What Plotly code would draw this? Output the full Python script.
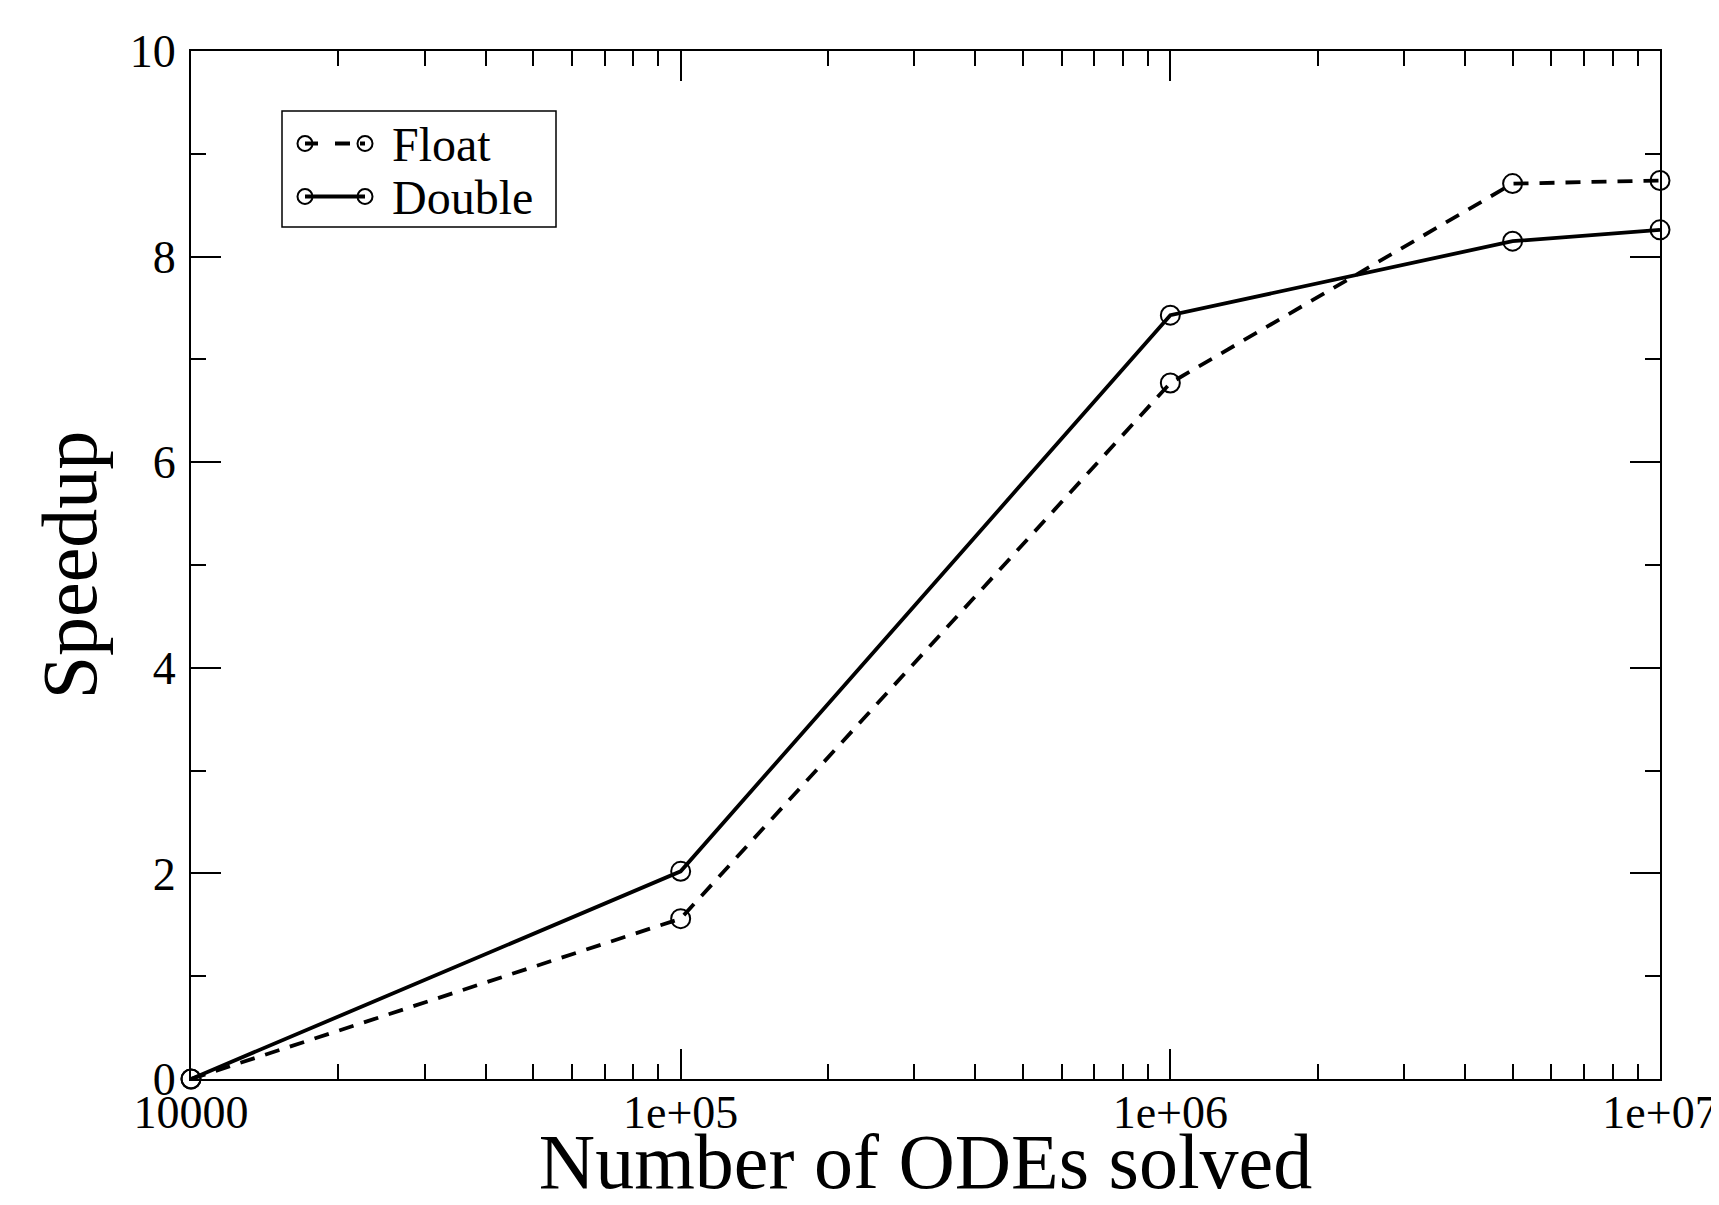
import plotly.graph_objects as go

# Data
n_odes = [1e4, 1e5, 1e6, 5e6, 1e7]
speedup_float = [0.0, 1.56, 6.77, 8.71, 8.74]
speedup_double = [0.0, 2.02, 7.43, 8.15, 8.26]
series_names = ["Float", "Double"]

x_tickvals = [1e4, 1e5, 1e6, 1e7]
x_ticktext = ["10000", "1e+05", "1e+06", "1e+07"]
y_tickvals = [0, 2, 4, 6, 8, 10]

FONT = "Liberation Serif"
DASH = "15px,11px"

fig = go.Figure()
fig.add_trace(go.Scatter(
    x=n_odes, y=speedup_float, name=series_names[0], mode="lines+markers",
    line=dict(color="black", width=3.8, dash=DASH),
    marker=dict(symbol="circle-open", size=19, color="black", line=dict(width=2, color="black")),
    cliponaxis=False, showlegend=False,
))
fig.add_trace(go.Scatter(
    x=n_odes, y=speedup_double, name=series_names[1], mode="lines+markers",
    line=dict(color="black", width=3.8),
    marker=dict(symbol="circle-open", size=19, color="black", line=dict(width=2, color="black")),
    cliponaxis=False, showlegend=False,
))

# Plot area geometry (window pixels) used to place the legend box
PL, PR, PT, PB = 191, 1660, 51, 1079
PW, PH = PR - PL, PB - PT


def dx(px):
    return (px - PL) / PW


def dy(py):
    return (PB - py) / PH


shapes = []
annotations = []
# legend frame
shapes.append(dict(type="rect", xref="x domain", yref="y domain",
                   x0=dx(282), x1=dx(556), y0=dy(227), y1=dy(111),
                   line=dict(color="black", width=1.5), fillcolor="white", layer="above"))
legend_rows = [(series_names[0], 143.5, "13px,17px,15px,10px"), (series_names[1], 196.5, "solid")]
r = 7.5
for name, ypx, dash in legend_rows:
    shapes.append(dict(type="line", xref="x domain", yref="y domain",
                       x0=dx(305), x1=dx(365), y0=dy(ypx), y1=dy(ypx),
                       line=dict(color="black", width=3.8, dash=dash), layer="above"))
    for cx in (305, 365):
        shapes.append(dict(type="circle", xref="x domain", yref="y domain",
                           x0=dx(cx - r), x1=dx(cx + r), y0=dy(ypx + r), y1=dy(ypx - r),
                           line=dict(color="black", width=2), layer="above"))
    annotations.append(dict(text=name, xref="x domain", yref="y domain",
                            x=dx(390), y=dy(ypx + 0.5), xanchor="left", yanchor="middle",
                            showarrow=False, font=dict(family=FONT, size=48, color="black")))

fig.update_layout(
    width=1711, height=1197,
    margin=dict(l=183, r=59, t=43, b=126, autoexpand=False),
    paper_bgcolor="white", plot_bgcolor="white",
    font=dict(family=FONT, color="black", size=46),
    showlegend=False,
    shapes=shapes,
    annotations=annotations,
    xaxis=dict(
        type="log", range=[4, 7],
        tickvals=x_tickvals, ticktext=x_ticktext,
        ticks="inside", ticklen=30, tickwidth=2, tickcolor="black",
        showline=True, linecolor="black", linewidth=2, mirror="ticks",
        showgrid=False, zeroline=False,
        tickfont=dict(family=FONT, size=46),
        ticklabelstandoff=-8,
        minor=dict(ticks="inside", ticklen=15, tickwidth=2, tickcolor="black", dtick="D1", showgrid=False),
        title=dict(text="Number of ODEs solved", font=dict(family=FONT, size=78), standoff=12),
        automargin=True,
    ),
    yaxis=dict(
        range=[0, 10],
        tickvals=y_tickvals,
        ticks="inside", ticklen=30, tickwidth=2, tickcolor="black",
        showline=True, linecolor="black", linewidth=2, mirror="ticks",
        showgrid=False, zeroline=False,
        tickfont=dict(family=FONT, size=46),
        ticklabelstandoff=4,
        minor=dict(ticks="inside", ticklen=15, tickwidth=2, tickcolor="black", dtick=1, showgrid=False),
        title=dict(text="Speedup", font=dict(family=FONT, size=78), standoff=7),
        automargin=False,
    ),
)

fig.write_html("out.html")
